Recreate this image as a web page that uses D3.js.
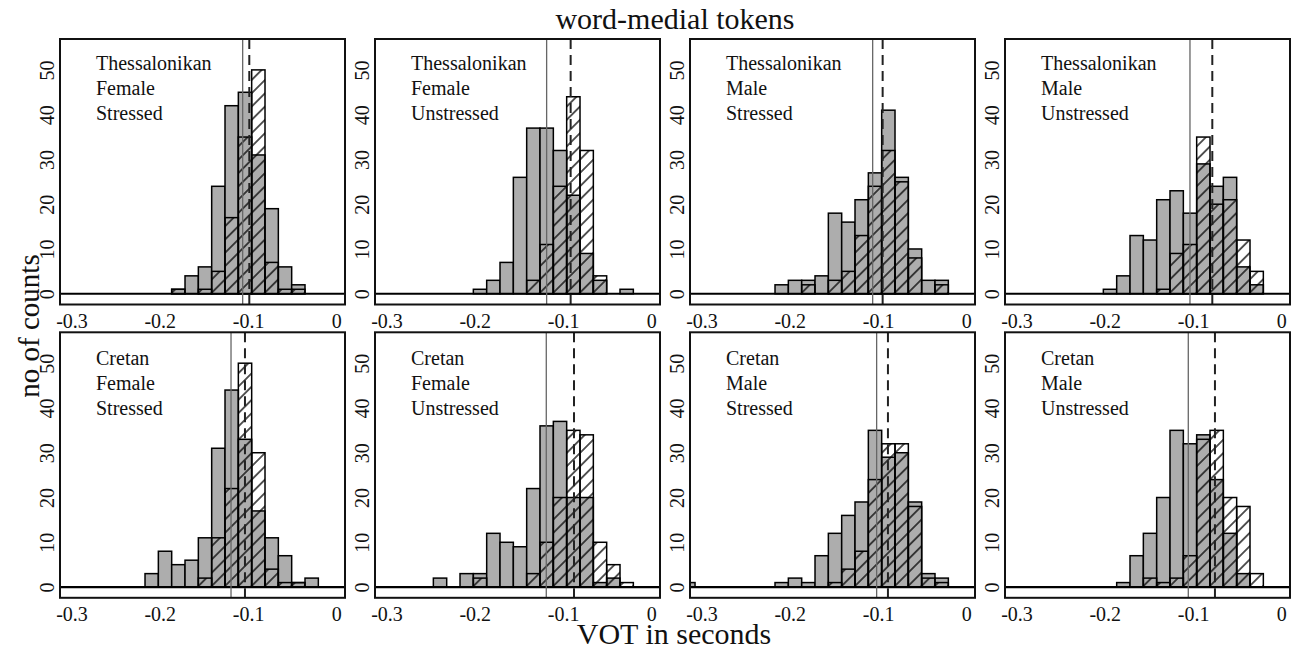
<!DOCTYPE html>
<html>
<head>
<meta charset="utf-8">
<script src="https://cdn.jsdelivr.net/npm/d3@7"></script>
<style>
  body { margin: 0; background: #fff; }
  text { font-family: "Liberation Serif", "Times New Roman", serif; fill: #111; }
</style>
</head>
<body>
<div id="chart"></div>
<script>
// histogram bins shared by all panels (VOT in seconds)
let binStart = -0.3224, binWidth = 0.0151, nBins = 22;

let panelLabels = [
  ["Thessalonikan", "Female", "Stressed"],
  ["Thessalonikan", "Female", "Unstressed"],
  ["Thessalonikan", "Male", "Stressed"],
  ["Thessalonikan", "Male", "Unstressed"],
  ["Cretan", "Female", "Stressed"],
  ["Cretan", "Female", "Unstressed"],
  ["Cretan", "Male", "Stressed"],
  ["Cretan", "Male", "Unstressed"]
];

// grey filled histograms
let grayCounts = [
  [0,0,0,0,0,0,0,0,0,1,4,6,24,42,45,31,19,6,2,0,0,0],
  [0,0,0,0,0,0,0,0,1,3,7,26,37,37,32,22,9,3,0,1,0,0],
  [0,0,0,0,0,0,0,2,3,3,4,18,16,21,27,41,26,10,3,3,0,0],
  [0,0,0,0,0,0,0,0,1,4,13,12,21,23,18,29,24,26,6,2,0,0],
  [0,0,0,0,0,0,0,3,8,5,6,11,31,44,33,17,11,7,1,2,0,0],
  [0,0,0,0,0,2,0,3,3,12,10,9,22,36,37,20,20,1,2,0,0,0],
  [1,0,0,0,0,0,0,1,2,1,7,12,16,19,35,29,30,19,3,2,0,0],
  [0,0,0,0,0,0,0,0,0,1,7,12,20,35,32,34,24,12,3,0,0,0]
];

// hatched histograms drawn on top
let hatchCounts = [
  [0,0,0,0,0,0,0,0,0,1,0,1,5,17,35,50,7,1,1,0,0,0],
  [0,0,0,0,0,0,0,0,0,0,0,0,3,11,24,44,32,4,0,0,0,0],
  [0,0,0,0,0,0,0,0,0,2,0,3,5,13,24,32,25,8,0,2,0,0],
  [0,0,0,0,0,0,0,0,0,0,0,0,1,9,11,35,20,21,12,5,0,0],
  [0,0,0,0,0,0,0,0,0,0,0,2,11,22,50,30,4,1,1,0,0,0],
  [0,0,0,0,0,0,0,0,2,0,0,0,3,10,20,35,34,10,5,1,0,0],
  [0,0,0,0,0,0,0,0,0,0,0,1,4,8,24,32,32,18,2,1,0,0],
  [0,0,0,0,0,0,0,0,0,0,0,2,1,2,7,33,35,20,18,3,0,0]
];

// means: solid line = grey histogram, dashed line = hatched histogram
let grayMeans  = [-0.1061, -0.1186, -0.1061, -0.1035, -0.1193, -0.1190, -0.1016, -0.1054];
let hatchMeans = [-0.0986, -0.0914, -0.0948, -0.0782, -0.1035, -0.0876, -0.0888, -0.0752];

let xTicks = [-0.3, -0.2, -0.1, 0];
let yTicks = [0, 10, 20, 30, 40, 50];

let width = 1296, height = 651;
let panelW = 285, panelH = 265.5;
let lefts = [60, 375, 690, 1005], tops = [39, 332.3];
let labelTop = [30.5, 33];

let svg = d3.select("#chart").append("svg")
  .attr("width", width)
  .attr("height", height);

let defs = svg.append("defs");
defs.append("clipPath").attr("id", "plotclip")
  .append("rect").attr("width", panelW).attr("height", panelH);
defs.append("pattern")
  .attr("id", "hatch")
  .attr("patternUnits", "userSpaceOnUse")
  .attr("width", 9.4).attr("height", 9.4)
  .attr("patternTransform", "rotate(45)")
  .append("line")
  .attr("x1", 4.7).attr("y1", 0).attr("x2", 4.7).attr("y2", 9.4)
  .attr("stroke", "#000").attr("stroke-width", 1.3);

let x = d3.scaleLinear().domain([-0.313, 0.0098]).range([0, panelW]);
let y = d3.scaleLinear().domain([-2.4, 56.9]).range([panelH, 0]);
let edges = d3.range(nBins).map(function(k) { return binStart + k * binWidth; });
let fmt = function(d) { return d === 0 ? "0" : d.toFixed(1); };

function bars(counts) {
  return counts.map(function(c, k) { return {k: k, c: c}; })
    .filter(function(d) { return d.c > 0; });
}

panelLabels.forEach(function(lab, i) {
  let row = Math.floor(i / 4);
  let g = svg.append("g")
    .attr("transform", "translate(" + lefts[i % 4] + "," + tops[row] + ")");

  let plot = g.append("g").attr("clip-path", "url(#plotclip)");

  plot.selectAll("rect.gray")
    .data(bars(grayCounts[i]))
    .enter().append("rect")
    .attr("class", "gray")
    .attr("x", function(d) { return x(edges[d.k]); })
    .attr("width", function(d) { return x(edges[d.k] + binWidth) - x(edges[d.k]); })
    .attr("y", function(d) { return y(d.c); })
    .attr("height", function(d) { return y(0) - y(d.c); })
    .attr("fill", "#adadad")
    .attr("stroke", "#000")
    .attr("stroke-width", 1.5);

  plot.selectAll("rect.hatch")
    .data(bars(hatchCounts[i]))
    .enter().append("rect")
    .attr("class", "hatch")
    .attr("x", function(d) { return x(edges[d.k]); })
    .attr("width", function(d) { return x(edges[d.k] + binWidth) - x(edges[d.k]); })
    .attr("y", function(d) { return y(d.c); })
    .attr("height", function(d) { return y(0) - y(d.c); })
    .attr("fill", "url(#hatch)")
    .attr("stroke", "#000")
    .attr("stroke-width", 1.5);

  plot.append("line")
    .attr("x1", 0).attr("x2", panelW)
    .attr("y1", y(0)).attr("y2", y(0))
    .attr("stroke", "#000").attr("stroke-width", 2.2);

  plot.append("line")
    .attr("x1", x(grayMeans[i])).attr("x2", x(grayMeans[i]))
    .attr("y1", 0).attr("y2", panelH)
    .attr("stroke", "#666").attr("stroke-width", 1.3);

  plot.append("line")
    .attr("x1", x(hatchMeans[i])).attr("x2", x(hatchMeans[i]))
    .attr("y1", 0).attr("y2", panelH)
    .attr("stroke", "#222").attr("stroke-width", 2)
    .attr("stroke-dasharray", "10,6");

  g.append("rect")
    .attr("width", panelW).attr("height", panelH)
    .attr("fill", "none")
    .attr("stroke", "#111").attr("stroke-width", 2);

  let xa = g.append("g")
    .attr("transform", "translate(0," + panelH + ")")
    .call(d3.axisBottom(x).tickValues(xTicks).tickSize(0).tickFormat(fmt));
  xa.select(".domain").remove();
  xa.selectAll("text")
    .attr("y", 23).attr("dy", 0)
    .style("font-size", "20px");

  let ya = g.append("g")
    .call(d3.axisLeft(y).tickValues(yTicks).tickSize(0));
  ya.select(".domain").remove();
  ya.selectAll("text")
    .attr("transform", "rotate(-90)")
    .attr("x", 0).attr("y", -6).attr("dy", 0)
    .style("text-anchor", "middle")
    .style("font-size", "20px");

  lab.forEach(function(t, j) {
    g.append("text")
      .attr("x", 36)
      .attr("y", labelTop[row] + j * 25)
      .style("font-size", "20px")
      .text(t);
  });
});

svg.append("text")
  .attr("x", 675).attr("y", 29)
  .style("text-anchor", "middle")
  .style("font-size", "30px")
  .text("word-medial tokens");

svg.append("text")
  .attr("x", 674).attr("y", 644)
  .style("text-anchor", "middle")
  .style("font-size", "30px")
  .text("VOT in seconds");

svg.append("text")
  .attr("transform", "translate(39,326) rotate(-90)")
  .style("text-anchor", "middle")
  .style("font-size", "29px")
  .text("no of counts");
</script>
</body>
</html>
